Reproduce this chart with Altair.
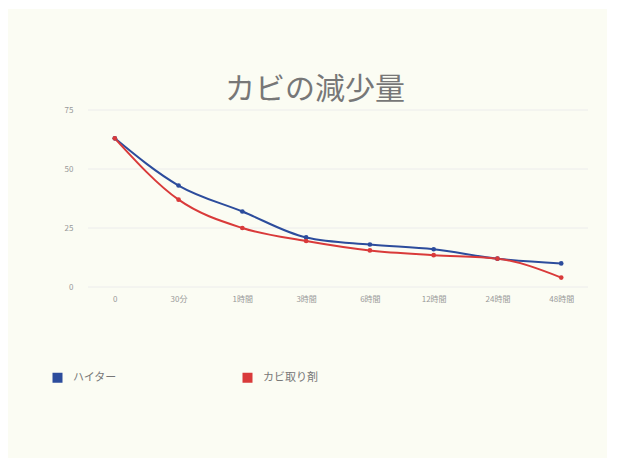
import altair as alt
import pandas as pd

# Elapsed-time categories on the x axis
times = ["0", "30分", "1時間", "3時間", "6時間", "12時間", "24時間", "48時間"]

# Remaining mold amount for each treatment
haiter = [63, 43, 32, 21, 18, 16, 12, 10]
kabitori = [63, 37, 25, 19.5, 15.5, 13.5, 12, 4]

series_names = ["ハイター", "カビ取り剤"]
series_colors = ["#2c4c9c", "#d93a3a"]

y_ticks = [0, 25, 50, 75]

FONT = "Noto Sans CJK JP"
PANEL = "#fbfcf3"

rows = []
for t, a, b in zip(times, haiter, kabitori):
    rows.append({"time": t, "series": series_names[0], "value": a})
    rows.append({"time": t, "series": series_names[1], "value": b})
df = pd.DataFrame(rows)
grid_df = pd.DataFrame({"v": y_ticks})

x_enc = alt.X("time:N", sort=times, title=None,
              scale=alt.Scale(type="point", padding=0.42),
              axis=alt.Axis(labelAngle=0, domain=False, ticks=False, grid=False,
                            labelFont=FONT, labelFontSize=8, labelColor="#999999",
                            labelPadding=8, zindex=1))
y_scale = alt.Scale(domain=[0, 75], nice=False)
color_enc = alt.Color("series:N", sort=series_names, title=None,
                      scale=alt.Scale(domain=series_names, range=series_colors),
                      legend=alt.Legend(orient="none", legendX=-36, legendY=262,
                                        direction="horizontal", symbolType="square",
                                        symbolSize=100, symbolStrokeWidth=0,
                                        labelFont=FONT, labelFontSize=11,
                                        labelColor="#777777", labelOffset=10,
                                        columnPadding=125, zindex=1))

# Light card behind the chart
panel = alt.Chart(pd.DataFrame({"k": [0]})).mark_rect(color=PANEL).encode(
    x=alt.value(-80), x2=alt.value(519), y=alt.value(-101), y2=alt.value(348)
)

grid = alt.Chart(grid_df).mark_rule(color="#ececec", strokeWidth=1).encode(
    y=alt.Y("v:Q", scale=y_scale, title=None,
            axis=alt.Axis(values=y_ticks, domain=False, ticks=False, grid=False,
                          labelFont=FONT, labelFontSize=8, labelColor="#999999",
                          labelPadding=15, zindex=1)),
    x=alt.value(0), x2=alt.value(500)
)

base = alt.Chart(df).encode(
    x=x_enc,
    y=alt.Y("value:Q", scale=y_scale, title=None),
    color=color_enc,
)
lines = base.mark_line(interpolate="monotone", strokeWidth=2)
points = base.mark_point(filled=True, size=22, opacity=1)

chart = alt.layer(panel, grid, lines, points).properties(
    width=500, height=177,
    autosize=alt.AutoSizeParams(type="none"),
    padding={"left": 88, "top": 110, "right": 32, "bottom": 181},
    background="#ffffff",
    title=alt.TitleParams("カビの減少量", font=FONT, fontSize=30, fontWeight="normal",
                          color="#777777", anchor="middle", dx=-23, offset=12,
                          dy=108, zindex=1),
).configure_view(stroke=None)

chart.save("out.html", embed_options={"renderer": "svg", "actions": False})
